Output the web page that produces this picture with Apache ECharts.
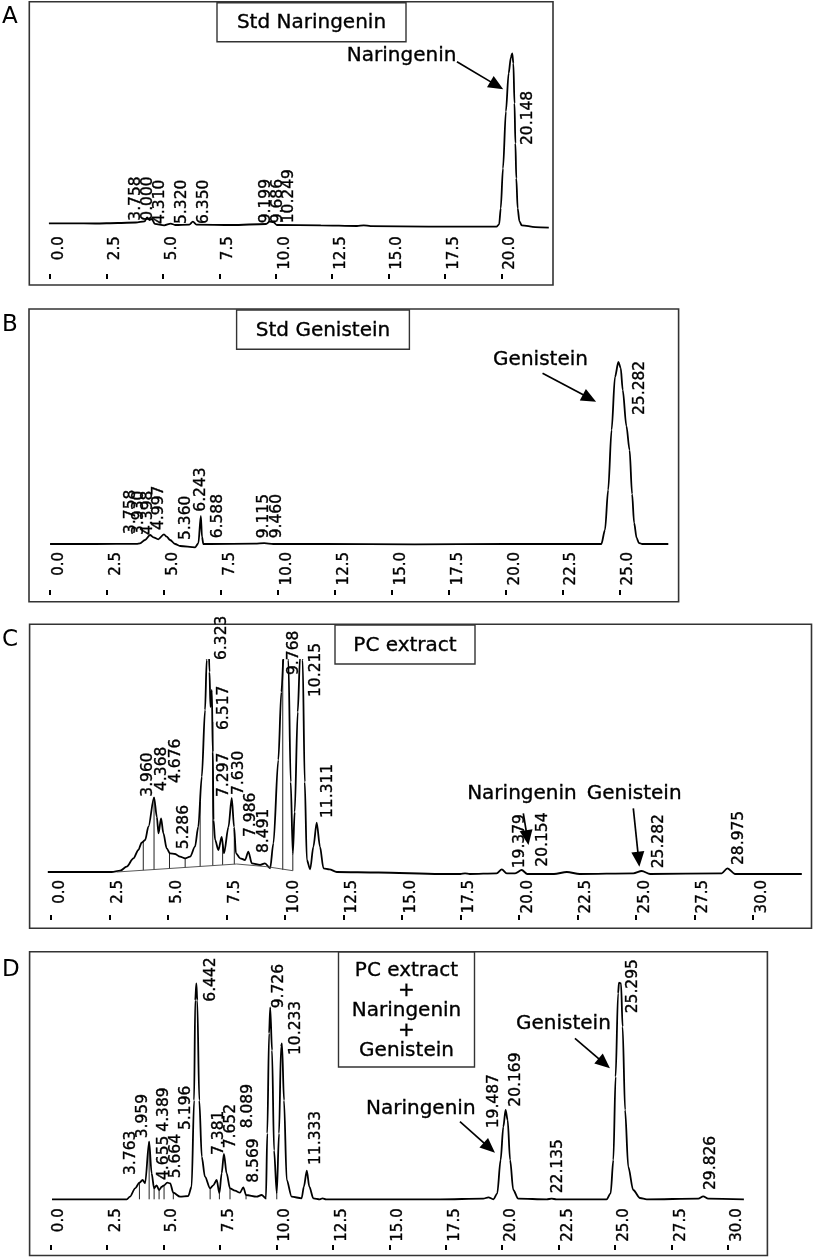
<!DOCTYPE html>
<html><head><meta charset="utf-8">
<script src="https://cdn.jsdelivr.net/npm/echarts@6/dist/echarts.min.js"></script>
<style>html,body{margin:0;padding:0;background:#fff}#c{width:814px;height:1257px}</style>
</head><body><div id="c"></div><script>
// ---------- tick labels (retention time, min) ----------
const ticksA = [0, 2.5, 5, 7.5, 10, 12.5, 15, 17.5, 20];
const ticksB = [0, 2.5, 5, 7.5, 10, 12.5, 15, 17.5, 20, 22.5, 25];
const ticksC = [0, 2.5, 5, 7.5, 10, 12.5, 15, 17.5, 20, 22.5, 25, 27.5, 30];
const ticksD = [0, 2.5, 5, 7.5, 10, 12.5, 15, 17.5, 20, 22.5, 25, 27.5, 30];

// ---------- traces [time, response] ----------
const traceA = [[-0.05,0],[1,0],[2,-0.2],[3,0.3],[3.8,0.8],[4.19,2],[4.3,6],[4.4,3.3],[4.51,4.3],[4.64,-0.5],[5.06,-2],[5.35,-0.3],[5.54,-1.7],[6.17,-1.3],[6.33,1.7],[6.49,-1.3],[8.06,-1.7],[9.57,-0.7],[9.73,1.7],[9.89,1.3],[10.05,-1.7],[12,-2],[13.6,-2.7],[13.9,-2],[14.2,-2.8],[16.77,-3.4],[19.78,-3.4],[19.9,-1],[19.97,15],[20.07,55],[20.2,112],[20.32,150],[20.42,166],[20.48,170],[20.53,160],[20.58,120],[20.62,80],[20.66,45],[20.72,15],[20.8,2],[20.9,-2],[21.5,-3.8],[22.1,-4.4]];
const traceB = [[0,0],[2,0],[3.8,0.2],[3.95,0.7],[4.17,4],[4.39,9],[4.54,6.7],[4.75,4.7],[5.0,9.7],[5.12,7.3],[5.27,4],[5.49,0],[5.71,-2],[6.37,-3.3],[6.51,0.7],[6.62,28],[6.67,7.3],[6.73,0],[7.02,0],[9,0.3],[9.4,0.8],[9.8,0],[12,0],[16,-0.3],[20,0],[24.2,0],[24.36,14],[24.5,54],[24.65,114],[24.8,167],[24.95,182],[25.05,176],[25.14,154],[25.3,118],[25.44,94],[25.55,50],[25.64,21],[25.75,6],[25.85,1],[26,0],[27.14,0]];
const traceC = [[-0.13,0],[1,0],[2,0],[2.6,0],[2.96,1.3],[3.24,5.3],[3.53,13.7],[3.74,22],[3.88,29.3],[4.03,32],[4.17,45.3],[4.41,74.7],[4.53,55],[4.6,38.7],[4.71,53.7],[4.81,38.7],[4.95,23.7],[5.09,18.7],[5.31,18],[5.52,15.3],[5.74,13.7],[5.95,15.3],[6.16,25.3],[6.3,45.3],[6.45,95.3],[6.59,162],[6.66,212],[6.72,250],[6.78,200],[6.82,165],[6.88,182],[6.92,120],[6.95,52],[7.02,32],[7.16,22],[7.3,35],[7.4,18.7],[7.59,45],[7.73,74],[7.83,45],[7.91,18.7],[8.09,13.7],[8.3,12],[8.44,20.3],[8.59,8.7],[8.94,7],[9.15,8.7],[9.37,3.7],[9.51,28.7],[9.72,112],[9.85,180],[9.97,225],[10.05,250],[10.15,212],[10.25,90],[10.34,18],[10.42,60],[10.55,160],[10.65,215],[10.7,235],[10.76,212],[10.85,90],[10.94,12],[11.08,2.7],[11.22,25.3],[11.36,49.3],[11.5,25.3],[11.65,3.7],[11.9,2.7],[12.22,0],[14,-0.5],[16.63,-2],[17.5,-2],[17.7,-1.3],[17.9,-2],[19.05,-1.3],[19.27,2.7],[19.48,-1.3],[19.84,-1.3],[20.12,2],[20.36,-2],[21.5,-2],[22.05,0],[22.6,-2],[24.89,-1.3],[25.25,1],[25.61,-2],[28.67,-1.3],[28.91,3.7],[29.24,-2],[32.09,-2]];
const integC = [[2.82,0],[7.94,8],[9.23,5.3],[10.34,1.3]];
const traceD = [[0.07,0],[1,0],[2,0],[3,0],[3.38,0],[3.52,2.6],[3.75,11],[3.94,16.6],[4.08,19.3],[4.19,16],[4.37,57.6],[4.48,26],[4.59,11],[4.7,14],[4.81,9.3],[4.93,12.6],[5.03,14],[5.17,16.6],[5.3,16],[5.44,6.6],[5.74,2.6],[6.1,3.3],[6.25,12.6],[6.36,99],[6.41,199],[6.46,216],[6.5,199],[6.59,99],[6.7,42.6],[6.84,22.6],[7.07,11],[7.21,14],[7.36,19.3],[7.48,6],[7.58,26],[7.68,45.3],[7.8,26],[7.95,11],[8.17,8.6],[8.39,6.6],[8.54,12],[8.66,4.3],[9.13,2.6],[9.35,4.3],[9.54,1],[9.6,66],[9.68,166],[9.73,192],[9.81,149],[9.9,49],[10.02,6],[10.12,66],[10.21,152.6],[10.25,156],[10.34,99],[10.46,19.3],[10.68,2.6],[11.12,1],[11.22,12.6],[11.35,28.6],[11.46,12.6],[11.64,1],[11.93,0],[12.05,1],[12.2,0],[15,0],[17.25,0],[19.16,0.6],[19.39,2],[19.61,0],[19.78,6],[19.93,39.3],[20.05,72.6],[20.15,89.3],[20.24,79.3],[20.35,39.3],[20.49,9.3],[20.71,0.6],[21.97,0],[22.19,0.6],[22.4,0],[24.62,0],[24.8,6],[24.92,39.3],[25.02,122.6],[25.13,206],[25.17,216.6],[25.26,216],[25.33,172.6],[25.44,89.3],[25.58,32.6],[25.8,9.3],[26.1,1.3],[26.4,0],[28.68,0.6],[28.9,3],[29.12,0.6],[30.7,0]];

// ---------- peak separation drop lines [time, from, to] ----------
const dropsC = [[3.95,1.8,30],[4.41,2.5,74.7],[5.07,3.5,19],[5.74,4.6,13.7],[6.38,5.6,70],[6.92,6.4,150],[7.34,7.1,28],[7.84,7.8,42],[9.91,2.2,212],[10.34,1.3,18]];
const dropsD = [[3.94,0,16.6],[4.37,0,57.6],[4.59,0,11],[4.81,0,9.3],[5.03,0,14],[5.44,0,6.6],[7.07,0,11],[7.48,0,6],[7.95,0,11],[8.66,0,4.3],[9.54,0,1],[10.02,0,6]];

// ---------- peak labels [text, time, response] ----------
const peaksA = [['3.758',3.54,2.6],['0.000',4.09,2.6],['4.310',4.61,-0.7],['5.320',5.57,-0.7],['6.350',6.57,-0.7],['9.199',9.3,0],['9.686',9.82,0],['10.249',10.31,0],['20.148',20.9,78.3]];
const peaksB = [['3.758',3.29,10],['3.930',3.66,9],['4.398',4.05,9],['4.997',4.54,14],['5.360',5.71,4],['6.243',6.37,32.3],['6.588',7.1,5.7],['9.115',9.13,5.7],['9.460',9.72,5.7],['25.282',25.64,129]];
const peaksC = [['3.960',3.88,75.3],['4.368',4.5,81],['4.676',5.09,89],['5.286',5.45,22.7],['6.323',7.04,212],['6.517',7.15,142],['7.297',7.16,75],['7.630',7.8,77],['7.986',8.3,35],['8.491',8.87,19],['9.768',10.14,197],['10.215',11.08,175],['11.311',11.58,54],['19.379',19.8,3.7],['20.154',20.79,5.3],['25.282',25.72,3.7],['28.975',29.17,7]];
const peaksD = [['3.763',3.3,24.3],['3.959',3.82,61],['4.655',4.78,19.3],['4.389',4.78,67.6],['5.664',5.29,21],['5.196',5.74,69.3],['6.442',6.84,197.6],['7.381',7.21,44.3],['7.652',7.73,51],['8.089',8.47,71],['8.569',8.76,16.6],['9.726',9.84,191],['10.233',10.61,144.3],['11.333',11.49,34.3],['19.487',19.39,71],['20.169',20.35,92.6],['22.135',22.19,6],['25.295',25.51,186],['29.826',28.98,9.3]];

// ---------- compound annotations [text, time, response] and arrows [t0,r0,tipT,tipR] ----------
const notesA = [['Naringenin',13.15,167.5]];
const arrowsA = [[18.03,161.6,20.08,134]];
const notesB = [['Genistein',19.45,184.3]];
const arrowsB = [[21.62,170.7,23.97,142.3]];
const notesC = [['Naringenin',17.79,77.8],['Genistein',22.9,77.8]];
const arrowsC = [[20.19,58.7,20.41,27],[24.89,63.7,25.15,5.3]];
const notesD = [['Naringenin',13.97,91],['Genistein',20.61,175.1]];
const arrowsD = [[18.13,77.6,19.68,46.6],[23.22,161,24.77,131]];

const titles = ['Std Naringenin', 'Std Genistein', 'PC extract', 'PC extract\n+\nNaringenin\n+\nGenistein'];
const letters = ['A', 'B', 'C', 'D'];

// ---------- layout ----------
const FONT = 'DejaVu Sans';
const INK = '#000';
const panels = [
  {grid:{left:48.9, top:23.3, width:499.9, height:210}, x:[-0.05,22.1], y:[-10,200], margin:3, tickOff:40.7, ticks:ticksA, trace:traceA, peaks:peaksA, notes:notesA, arrows:arrowsA},
  {grid:{left:48.9, top:344, width:619.4, height:206}, x:[-0.05,27.14], y:[-6,200], margin:2, tickOff:40, ticks:ticksB, trace:traceB, peaks:peaksB, notes:notesB, arrows:arrowsB},
  {grid:{left:47.8, top:660, width:754, height:218}, x:[-0.13,32.09], y:[-6,212], margin:2, tickOff:37, ticks:ticksC, trace:traceC, peaks:peaksC, notes:notesC, arrows:arrowsC, integ:integC, drops:dropsC},
  {grid:{left:49.3, top:979.3, width:694.6, height:226}, x:[-0.05,30.7], y:[-6,220], margin:3, tickOff:39.7, ticks:ticksD, trace:traceD, peaks:peaksD, notes:notesD, arrows:arrowsD, drops:dropsD}
];
const boxes = [[29.3,1.7,523.7,283.3],[29,309,649.6,292.7],[29.6,624.3,781.9,304],[29.6,951.7,737.8,303.8]];
const titleBoxes = [[217,2.7,189,39],[236.6,310,172.8,39.3],[335,625,140,39],[338.5,952,136,115]];
const letterPos = [[2,17],[2,325],[2,640],[2,970]];

const TXT = {color:INK, opacity:1, textBorderColor:'#000', textBorderWidth:0.35, fontFamily:FONT};

const grid = [], xAxis = [], yAxis = [], series = [];
panels.forEach((p, i) => {
  grid.push(p.grid);
  xAxis.push({gridIndex:i, type:'value', min:p.x[0], max:p.x[1],
    axisLine:{show:false}, axisTick:{show:false}, splitLine:{show:false},
    axisLabel:Object.assign({customValues:p.ticks, rotate:90, margin:p.margin, fontSize:15,
      verticalAlign:'top', lineHeight:18, formatter:v => v.toFixed(1)}, TXT)});
  xAxis.push({gridIndex:i, type:'value', min:p.x[0], max:p.x[1], position:'bottom', offset:p.tickOff,
    axisLine:{show:false}, axisLabel:{show:false}, splitLine:{show:false},
    axisTick:{show:true, customValues:p.ticks, length:5, inside:false, lineStyle:{color:INK, width:2}}});
  yAxis.push({gridIndex:i, type:'value', min:p.y[0], max:p.y[1], show:false});
  const xi = 2*i, yi = i;
  series.push({type:'line', xAxisIndex:xi, yAxisIndex:yi, data:p.trace, symbol:'none', showSymbol:false,
    smooth:0.3, smoothMonotone:'x', clip:true, silent:true,
    lineStyle:{color:INK, width:1.8}});
  if (p.integ) series.push({type:'line', xAxisIndex:xi, yAxisIndex:yi, data:p.integ, symbol:'none', silent:true,
    lineStyle:{color:'#444', width:0.9}});
  if (p.drops) series.push({type:'custom', xAxisIndex:xi, yAxisIndex:yi, data:p.drops, clip:true, silent:true,
    encode:{x:0, y:[1,2]},
    renderItem:(params, api) => {
      const a = api.coord([api.value(0), api.value(1)]);
      const b = api.coord([api.value(0), api.value(2)]);
      return {type:'line', shape:{x1:a[0], y1:a[1], x2:b[0], y2:b[1]}, style:{stroke:'#222', lineWidth:1}};
    }});
  series.push({type:'custom', xAxisIndex:xi, yAxisIndex:yi, data:p.arrows, clip:false, silent:true,
    encode:{x:[0,2], y:[1,3]},
    renderItem:(params, api) => {
      const a = api.coord([api.value(0), api.value(1)]);
      const b = api.coord([api.value(2), api.value(3)]);
      const dx = b[0]-a[0], dy = b[1]-a[1], L = Math.hypot(dx, dy), ux = dx/L, uy = dy/L;
      const hl = 15, hw = 6.5, bx = b[0]-ux*hl, by = b[1]-uy*hl;
      return {type:'group', children:[
        {type:'line', shape:{x1:a[0], y1:a[1], x2:bx+ux*2, y2:by+uy*2}, style:{stroke:INK, lineWidth:1.7}},
        {type:'polygon', shape:{points:[[b[0],b[1]],[bx-uy*hw, by+ux*hw],[bx+uy*hw, by-ux*hw]]}, style:{fill:INK}}
      ]};
    }});
  series.push({type:'scatter', xAxisIndex:xi, yAxisIndex:yi, symbolSize:1, clip:false, silent:true,
    itemStyle:{color:'rgba(0,0,0,0)', opacity:1},
    data:p.peaks.map(d => ({name:d[0], value:[d[1], d[2]]})),
    label:Object.assign({show:true, formatter:'{b}', position:[0.5,0.5], rotate:90, align:'left', verticalAlign:'top',
      lineHeight:12, fontSize:15.5}, TXT)});
  series.push({type:'scatter', xAxisIndex:xi, yAxisIndex:yi, symbolSize:1, clip:false, silent:true,
    itemStyle:{color:'rgba(0,0,0,0)', opacity:1},
    data:p.notes.map(d => ({name:d[0], value:[d[1], d[2]]})),
    label:Object.assign({show:true, formatter:'{b}', position:[0.5,0.5], align:'left', verticalAlign:'middle',
      fontSize:20}, TXT)});
});

const graphic = [];
boxes.forEach(b => graphic.push({type:'rect', shape:{x:b[0], y:b[1], width:b[2], height:b[3]},
  style:{fill:'none', stroke:'#333', lineWidth:1.6}, silent:true}));
titleBoxes.forEach((b, i) => {
  graphic.push({type:'rect', shape:{x:b[0], y:b[1], width:b[2], height:b[3]},
    style:{fill:'#fff', stroke:'#333', lineWidth:1.4}, silent:true});
  graphic.push({type:'text', x:b[0] + b[2]/2, y:b[1] + b[3]/2 + 1, silent:true,
    style:{text:titles[i], fontSize:20, fontFamily:FONT, fill:INK, stroke:'#000', lineWidth:0.35,
      align:'center', verticalAlign:'middle', lineHeight:20}});
});
letterPos.forEach((p, i) => graphic.push({type:'text', x:p[0], y:p[1], silent:true,
  style:{text:letters[i], fontSize:23, fontFamily:FONT, fill:INK, align:'left', verticalAlign:'middle'}}));

const chart = echarts.init(document.getElementById('c'), null, {renderer:'canvas'});
chart.setOption({animation:false, backgroundColor:'#fff', textStyle:{fontFamily:FONT},
  grid, xAxis, yAxis, series, graphic});
</script></body></html>
